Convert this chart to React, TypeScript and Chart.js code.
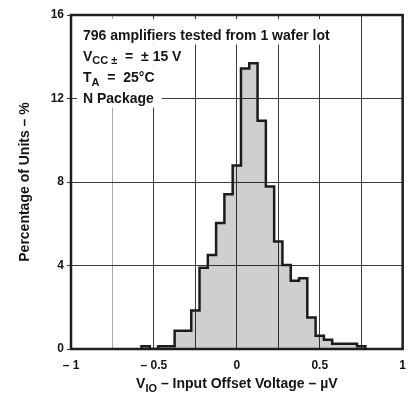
import React, { useEffect, useRef } from 'react';
import { Chart, registerables } from 'chart.js';

Chart.register(...registerables);

// ---- data ----
const binCenters = [
  -0.55, -0.5, -0.45, -0.4, -0.35, -0.3, -0.25, -0.2, -0.15, -0.1, -0.05, 0,
  0.05, 0.1, 0.15, 0.2, 0.25, 0.3, 0.35, 0.4, 0.45, 0.5, 0.55, 0.6, 0.65, 0.7, 0.75,
];
const percentOfUnits = [
  0.13, 0, 0.13, 0.13, 0.88, 0.88, 1.85, 3.89, 4.5, 6.03, 7.41, 8.79,
  13.44, 13.69, 10.93, 7.79, 5.15, 4.02, 3.27, 3.39, 1.51, 0.63, 0.44, 0.25, 0.25, 0.25, 0.13,
];
const binWidth = 0.05;

const xTickValues = [-1, -0.5, 0, 0.5, 1];
const xTickLabels = ['\u2013 1', '\u2013 0.5', '0', '0.5', '1'];
const yTickValues = [0, 4, 8, 12, 16];

const yTitle = 'Percentage of Units \u2013 %';
const xTitleMain = 'V';
const xTitleSub = 'IO';
const xTitleRest = ' \u2013 Input Offset Voltage \u2013 \u00b5V';

const noteLine1 = '796 amplifiers tested from 1 wafer lot';
const noteVcc = ['V', 'CC \u00b1', '  =  \u00b1 15 V'];
const noteTa = ['T', 'A', '  =  25\u00b0C'];
const notePkg = 'N Package';

const FONT = '"Liberation Sans", Arial, Helvetica, sans-serif';

const overlayPlugin = {
  id: 'overlay',
  afterDraw(chart: any) {
    const { ctx, chartArea: a } = chart;
    ctx.save();
    const big = `bold 14px ${FONT}`;
    const small = `bold 11px ${FONT}`;
    ctx.fillStyle = '#151515';

    // annotation block
    const x0 = a.left + 12;
    const baselines = [a.top + 24.5, a.top + 45.5, a.top + 67, a.top + 87.5];
    const lines: [string, string, number][][] = [
      [[noteLine1, big, 0]],
      [[noteVcc[0], big, 0], [noteVcc[1], small, 3.5], [noteVcc[2], big, 0]],
      [[noteTa[0], big, 0], [noteTa[1], small, 3.5], [noteTa[2], big, 0]],
      [[notePkg, big, 0]],
    ];
    lines.forEach((segs, i) => {
      let w = 0;
      segs.forEach(([t, f]) => {
        ctx.font = f;
        w += ctx.measureText(t).width;
      });
      const top = i === 0 ? a.top + 4 : baselines[i - 1] + 5;
      ctx.fillStyle = '#ffffff';
      ctx.fillRect(x0 - 6, top, w + 14, baselines[i] + 5 - top);
      ctx.fillStyle = '#151515';
      let x = x0;
      segs.forEach(([t, f, dy]) => {
        ctx.font = f;
        ctx.textBaseline = 'alphabetic';
        ctx.textAlign = 'left';
        ctx.fillText(t, x, baselines[i] + dy);
        x += ctx.measureText(t).width;
      });
    });

    // frame
    ctx.strokeStyle = '#1e1e1e';
    ctx.lineWidth = 2.5;
    ctx.strokeRect(a.left, a.top, a.right - a.left, a.bottom - a.top);

    // y title
    ctx.fillStyle = '#151515';
    ctx.font = big;
    ctx.save();
    ctx.translate(25, (a.top + a.bottom) / 2);
    ctx.rotate(-Math.PI / 2);
    ctx.textAlign = 'center';
    ctx.textBaseline = 'middle';
    ctx.fillText(yTitle, 0, 0);
    ctx.restore();

    // x title
    ctx.font = big;
    const w1 = ctx.measureText(xTitleMain).width;
    const w3 = ctx.measureText(xTitleRest).width;
    ctx.font = small;
    const w2 = ctx.measureText(xTitleSub).width;
    const total = w1 + w2 + w3;
    let x = (a.left + a.right) / 2 - total / 2;
    const by = a.bottom + 39;
    ctx.textAlign = 'left';
    ctx.textBaseline = 'alphabetic';
    ctx.font = big;
    ctx.fillText(xTitleMain, x, by);
    x += w1;
    ctx.font = small;
    ctx.fillText(xTitleSub, x, by + 4);
    x += w2;
    ctx.font = big;
    ctx.fillText(xTitleRest, x, by);
    ctx.restore();
  },
};

export default function App() {
  const ref = useRef<HTMLCanvasElement | null>(null);

  useEffect(() => {
    document.body.style.margin = '0';
    const canvas = ref.current;
    if (!canvas) return;

    const points: { x: number; y: number }[] = [];
    points.push({ x: binCenters[0] - binWidth / 2, y: 0 });
    binCenters.forEach((c, i) => points.push({ x: c - binWidth / 2, y: percentOfUnits[i] }));
    points.push({ x: binCenters[binCenters.length - 1] + binWidth / 2, y: 0 });

    const chart = new Chart(canvas, {
      type: 'line',
      data: {
        datasets: [
          {
            data: points,
            stepped: true,
            fill: 'origin',
            backgroundColor: 'rgba(0,0,0,0.19)',
            borderColor: '#1c1c1c',
            borderWidth: 2.5,
            borderJoinStyle: 'miter',
            pointRadius: 0,
          },
        ],
      },
      options: {
        animation: false,
        responsive: false,
        devicePixelRatio: 1,
        layout: { padding: { top: 15, right: 11, left: 0, bottom: 0 } },
        plugins: { legend: { display: false }, tooltip: { enabled: false } },
        scales: {
          x: {
            type: 'linear',
            min: -1,
            max: 1,
            afterBuildTicks: (scale: any) => {
              const t = [];
              for (let v = -1; v <= 1.0001; v += 0.25) t.push({ value: Math.round(v * 100) / 100 });
              scale.ticks = t;
            },
            afterFit: (scale: any) => {
              scale.height = 45;
            },
            ticks: {
              autoSkip: false,
              maxRotation: 0,
              padding: 9,
              color: '#151515',
              font: { family: FONT, size: 12, weight: 'bold' },
              callback: (v: any) => {
                const i = xTickValues.findIndex((t) => Math.abs(t - v) < 1e-6);
                return i >= 0 ? xTickLabels[i] : '';
              },
            },
            grid: {
              drawTicks: false,
              color: (c: any) => (c.tick && Math.abs(c.tick.value + 0.75) < 1e-6 ? '#a8a8a8' : '#3a3a3a'),
              lineWidth: 1,
            },
            border: { display: false },
          },
          y: {
            min: 0,
            max: 16,
            afterBuildTicks: (scale: any) => {
              scale.ticks = yTickValues.map((v) => ({ value: v }));
            },
            afterFit: (scale: any) => {
              scale.width = 71;
            },
            ticks: {
              padding: 3,
              color: '#151515',
              font: { family: FONT, size: 12, weight: 'bold' },
            },
            grid: {
              color: '#3a3a3a',
              lineWidth: 1,
              tickLength: 4,
            },
            border: { display: false },
          },
        },
      },
      plugins: [overlayPlugin],
    });

    return () => chart.destroy();
  }, []);

  return (
    <div style={{ width: 415, height: 394, background: '#fff' }}>
      <canvas ref={ref} width={415} height={394} />
    </div>
  );
}
